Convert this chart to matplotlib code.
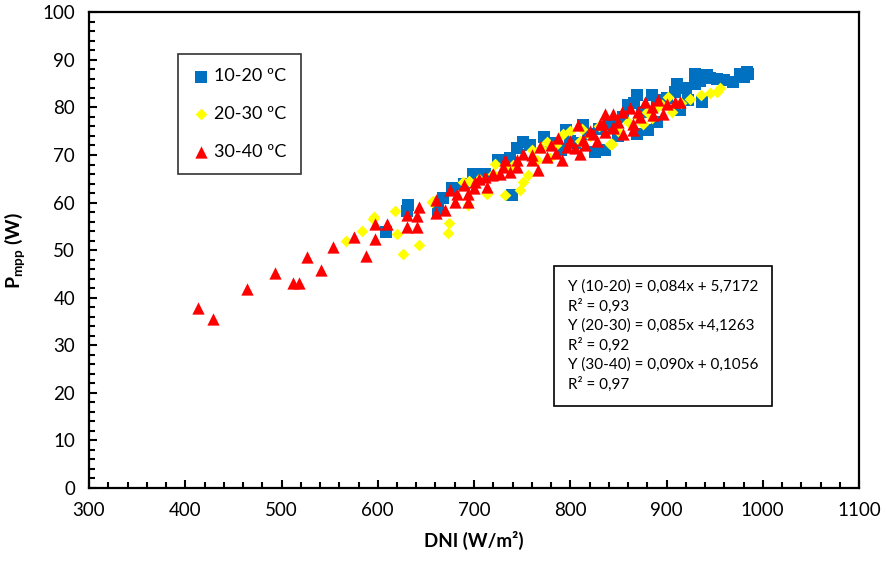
import matplotlib
matplotlib.use("Agg")
import matplotlib.pyplot as plt
from matplotlib.ticker import MultipleLocator

plt.rcParams['font.family'] = ['Lato', 'DejaVu Sans']
plt.rcParams['mathtext.fontset'] = 'custom'
plt.rcParams['mathtext.rm'] = 'Lato'
plt.rcParams['mathtext.bf'] = 'Lato:bold'

# ---- data (DNI W/m2, Pmpp W) ----
dni_10_20 = [609, 631.8, 630, 663, 667.4, 676.8, 699.3, 711.4, 737.4, 739.2, 751.3, 758.2,
             773, 795.6, 813.6, 825.7, 836.2, 869, 881, 889.7, 860.3, 869, 884.5, 896.7,
             914, 922.6, 936.5, 909.1, 910.8, 929.9, 929.9, 942, 945.5, 969.6, 976.6, 983.5,
             800, 818, 845, 850, 790, 805, 830, 855, 875, 705,
             920, 935, 952, 960, 980, 985, 900, 890, 866, 840, 780, 745, 725, 690]
p_10_20 = [53.9, 59.5, 58.3, 58.4, 60.9, 63.0, 66.1, 66.1, 69.3, 61.6, 72.8, 72.1,
           73.8, 75.2, 76.3, 70.7, 71.0, 74.5, 75.2, 77.0, 80.5, 82.6, 82.6, 81.5,
           79.4, 81.5, 81.2, 83.3, 85.0, 85.0, 87.1, 86.8, 86.1, 85.4, 87.1, 87.5,
           73.0, 74.5, 76.0, 74.0, 71.0, 72.5, 75.5, 78.0, 79.0, 65.0,
           84.0, 85.5, 86.0, 85.8, 86.5, 87.0, 82.0, 81.0, 81.0, 77.0, 72.5, 71.5, 69.0, 64.0]

dni_20_30 = [567, 584, 596.4, 595.5, 617.9, 620.4, 625.9, 642.9, 656, 657, 673.4, 674.4,
             688.6, 694, 695, 713.3, 713.3, 721.9, 732.2, 747.8, 751.3, 756.5, 775.6, 779,
             792.9, 810, 841.4, 843, 875.9, 884.5, 901.9, 905.3, 924.4, 935.9, 952.2, 955.8,
             705, 760, 800, 820, 860, 890, 740, 770,
             720, 735, 765, 785, 812, 830, 850, 870, 880, 895, 915, 945]
p_20_30 = [52.0, 54.1, 57.0, 56.5, 58.3, 53.5, 49.2, 51.1, 60.2, 60.3, 53.7, 55.7,
           64.4, 59.5, 64.5, 61.9, 62.3, 68.2, 61.6, 62.6, 64.4, 65.8, 72.8, 69.3,
           74.5, 73.0, 72.4, 72.4, 76.6, 77.7, 82.2, 79.1, 81.7, 82.6, 83.3, 84.0,
           65.0, 71.0, 75.0, 74.0, 77.0, 80.0, 68.0, 71.5,
           66.0, 67.0, 69.0, 72.0, 75.5, 76.0, 75.0, 78.0, 79.0, 80.5, 81.0, 83.0]

dni_30_40 = [413.6, 428.5, 463.8, 493.6, 512.3, 518.5, 526.5, 541.4, 553.8, 575.7, 587.8,
             597.2, 597.2, 609.9, 630, 630, 640.4, 640.4, 642.9, 660.5, 660.5, 669.9, 675,
             680.3, 682, 690, 693.4, 694, 701, 711.4, 713.3, 718.4, 727, 732.2, 737.4,
             744.3, 751.3, 759.9, 768.6, 766.8, 775.6, 787.7, 791.1, 796.3, 808.4, 810.1,
             813.6, 823.9, 831, 836.2, 844.9, 914, 908.8, 900.2, 891.5, 877.7, 862.1, 853.5,
             844.7, 836.1, 834.4, 844.7, 865.5, 872.5, 886.3, 896.7, 855.1, 865.5,
             780, 800, 820, 850, 870, 885, 760, 745, 730, 720, 705, 700, 785, 805, 815, 828]
p_30_40 = [37.8, 35.6, 41.8, 45.1, 43.1, 43.1, 48.6, 45.8, 50.7, 52.8, 48.8,
           52.4, 55.6, 55.6, 57.4, 54.9, 54.9, 57.1, 59.1, 57.8, 60.5, 58.5, 62.6,
           60.2, 61.9, 63.7, 60.2, 61.9, 64.4, 65.4, 63.3, 65.8, 66.1, 68.9, 66.5,
           67.5, 70.3, 68.9, 71.7, 66.8, 69.6, 73.5, 68.9, 71.7, 76.3, 70.3,
           73.1, 74.5, 76.6, 74.9, 75.6, 81.2, 81.2, 80.8, 81.5, 81.2, 79.8, 79.1,
           78.7, 78.7, 76.6, 75.9, 76.6, 78.0, 78.4, 78.7, 74.5, 75.2,
           72.0, 73.0, 75.0, 77.0, 79.0, 80.0, 70.0, 69.0, 67.5, 66.0, 65.0, 63.0, 70.5, 71.5, 72.0, 73.0]

labels = ['10-20 ºC', '20-30 ºC', '30-40 ºC']
equations = ['Y (10-20) = 0,084x + 5,7172', 'R² = 0,93',
             'Y (20-30) = 0,085x +4,1263', 'R² = 0,92',
             'Y (30-40) = 0,090x + 0,1056', 'R² = 0,97']

fig = plt.figure(figsize=(8.86, 5.64), dpi=100)
ax = fig.add_axes([89/886, 1-488/564, (859-89)/886, (488-12.3)/564])

ax.scatter(dni_10_20, p_10_20, marker='s', s=72, color='#0070C0', linewidths=0, label=labels[0], zorder=3)
ax.scatter(dni_20_30, p_20_30, marker='D', s=36, color='#FFFF00', linewidths=0, label=labels[1], zorder=4)
ax.scatter(dni_30_40, p_30_40, marker='^', s=78, color='#FF0000', linewidths=0, label=labels[2], zorder=5)

ax.set_xlim(300, 1100)
ax.set_ylim(0, 100)
ax.xaxis.set_major_locator(MultipleLocator(100))
ax.xaxis.set_minor_locator(MultipleLocator(20))
ax.yaxis.set_major_locator(MultipleLocator(10))
ax.yaxis.set_minor_locator(MultipleLocator(2))
ax.tick_params(which='both', direction='in', top=False, right=False, labelsize=13.5, width=1.5)
ax.tick_params(which='major', length=6, pad=10)
ax.tick_params(which='minor', length=4)
for sp in ax.spines.values():
    sp.set_linewidth(1.6)

ax.set_xlabel('DNI (W/m²)', fontsize=13.5, fontweight='bold', labelpad=9)
ax.set_ylabel(r'$\mathbf{P_{mpp}}$ (W)', fontsize=14, fontweight='bold', labelpad=11)

leg = ax.legend(loc='upper left', bbox_to_anchor=((178-89)/770, 1-(54-12.3)/476),
                fontsize=13, frameon=True, fancybox=False, edgecolor='black',
                labelspacing=1.2, handletextpad=0.2, borderpad=0.8, handlelength=1.0,
                scatterpoints=1, borderaxespad=0)
leg.get_frame().set_linewidth(1.2)

eq_text = '\n'.join(equations)
ax.text((568-89)/770, 1-(280-12.3)/476, eq_text, transform=ax.transAxes, fontsize=11,
        va='top', ha='left', linespacing=1.4,
        bbox=dict(boxstyle='square,pad=0.9', facecolor='white', edgecolor='black', linewidth=1.2))

fig.savefig('out.png', dpi=100)
